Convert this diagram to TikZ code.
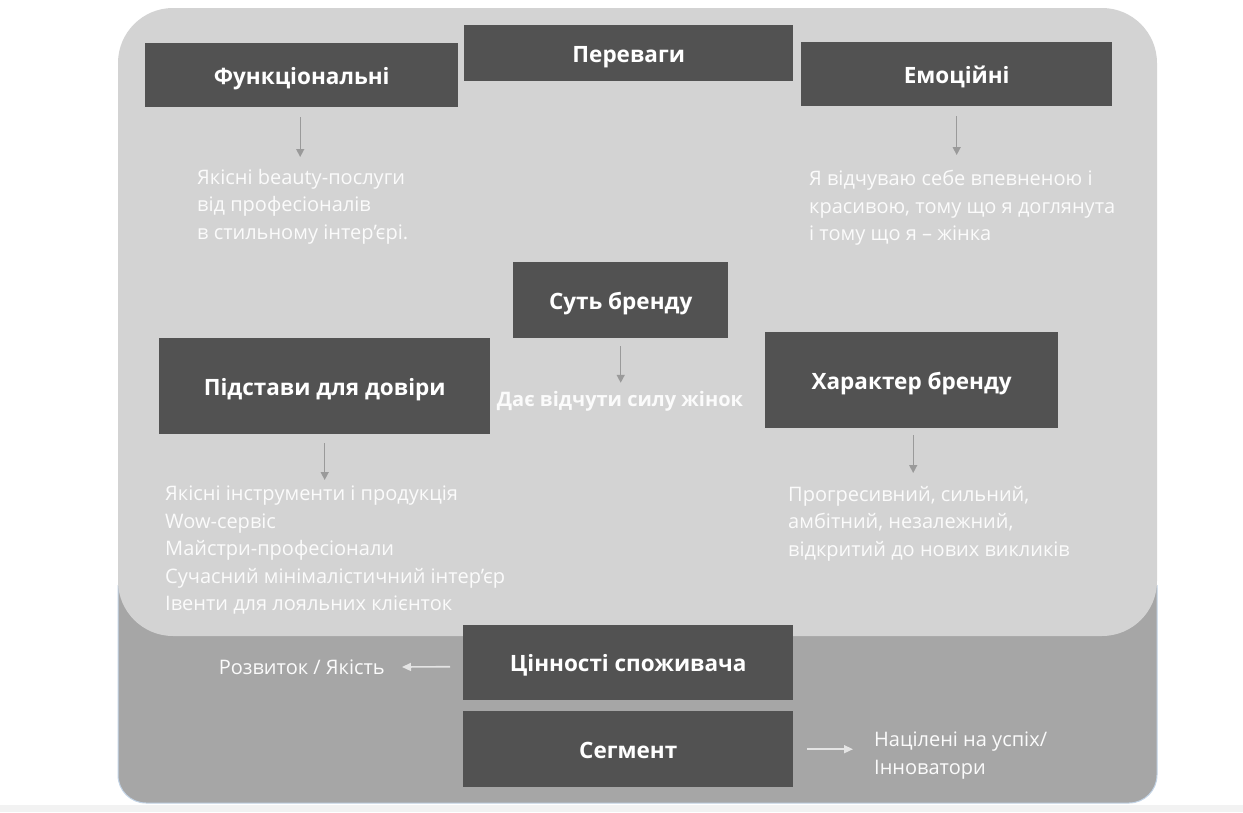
\documentclass[tikz,border=0pt]{standalone}
\usepackage{fontspec}
\setmainfont{Open Sans}
\usetikzlibrary{arrows.meta}
\definecolor{panellight}{HTML}{D3D3D3}
\definecolor{paneldark}{HTML}{A6A6A6}
\definecolor{paneledge}{HTML}{C2D3E6}
\definecolor{boxgray}{HTML}{525252}
\definecolor{arrowgray}{HTML}{9A9A9A}
\definecolor{lightarrow}{HTML}{E4E4E4}
\definecolor{softwhite}{HTML}{FBFBFB}
\definecolor{floorgray}{HTML}{F2F2F2}
\tikzset{
  darkbox/.style={fill=boxgray, text=white, inner sep=0pt, anchor=north west,
    text height=18pt, text depth=0pt,
    font=\bfseries\fontsize{22.5}{27}\selectfont},
  bodytext/.style={text=softwhite, inner sep=0pt, align=left, anchor=north west,
    font=\fontsize{20}{27.5}\selectfont},
  downarrow/.style={draw=arrowgray, line width=1.4pt,
    -{Triangle[width=8pt,length=8pt]}},
  sidearrow/.style={draw=lightarrow, line width=1.6pt,
    -{Triangle[width=8pt,length=9pt]}}
}
\begin{document}
\begin{tikzpicture}[x=1pt,y=-1pt]
\useasboundingbox (0,0) rectangle (1243,812);
\fill[white] (0,0) rectangle (1243,812);
\fill[floorgray] (0,805) rectangle (1243,812);

% panels: darker lower tray, lighter upper card
\fill[paneldark, rounded corners=28pt] (118,560) rectangle (1157,803);
\draw[paneledge, line width=1pt, rounded corners=28pt]
  (118,585) -- (118,803) -- (1157,803) -- (1157,585);
\fill[panellight, rounded corners=55pt] (118,8) rectangle (1157,636);

% header boxes
\node[darkbox, minimum width=329pt, minimum height=56pt] (adv) at (464,25) {Переваги};
\node[darkbox, minimum width=313pt, minimum height=64pt] (func) at (145,43) {Функціональні};
\node[darkbox, minimum width=311pt, minimum height=64pt] (emo) at (801,42) {Емоційні};
\node[darkbox, minimum width=215pt, minimum height=76pt] (core) at (513,262) {Суть бренду};
\node[darkbox, minimum width=331pt, minimum height=96pt] (trust) at (159,338) {Підстави для довіри};
\node[darkbox, minimum width=293pt, minimum height=96pt] (char) at (765,332) {Характер бренду};
\node[darkbox, minimum width=330pt, minimum height=75pt] (values) at (463,625) {Цінності споживача};
\node[darkbox, minimum width=330pt, minimum height=76pt] (segment) at (463,711) {Сегмент};

% descriptions
\node[bodytext] (functext) at (197,169)
  {Якісні beauty-послуги\\від професіоналів\\в стильному інтер’єрі.};
\node[bodytext] (emotext) at (809,170)
  {Я відчуваю себе впевненою і\\красивою, тому що я доглянута\\і тому що я – жінка};
\node[text=softwhite, inner sep=0pt, font=\bfseries\fontsize{20}{24}\selectfont]
  (coretext) at (620,401) {Дає відчути силу жінок};
\node[bodytext] (trusttext) at (165,486)
  {Якісні інструменти і продукція\\Wow-сервіс\\Майстри-професіонали\\Сучасний мінімалістичний інтер'єр\\Івенти для лояльних клієнток};
\node[bodytext] (chartext) at (788,486)
  {Прогресивний, сильний,\\амбітний, незалежний,\\відкритий до нових викликів};
\node[bodytext, anchor=east] (valuetext) at (385,667) {Розвиток / Якість};
\node[bodytext] (segtext) at (874,732) {Націлені на успіх/\\Інноватори};

% connectors
\draw[downarrow] ([xshift=-1.5pt,yshift=-10pt]func.south)
  -- ([xshift=-1.5pt,yshift=12pt]func.south |- functext.north);
\draw[downarrow] ([yshift=-10pt]emo.south) -- ([yshift=15pt]emo.south |- emotext.north);
\draw[downarrow] ([yshift=-8pt]core.south) -- ([yshift=8pt]core.south |- coretext.north);
\draw[downarrow] ([yshift=-9pt]trust.south) -- ([yshift=6pt]trust.south |- trusttext.north);
\draw[downarrow] ([xshift=1.5pt,yshift=-7pt]char.south) -- ([xshift=1.5pt,yshift=13pt]char.south |- chartext.north);
\draw[sidearrow] ([xshift=-13pt,yshift=-4pt]values.west) -- ([xshift=17pt]valuetext.east);
\draw[sidearrow] ([xshift=14pt]segment.east) -- ([xshift=-21pt]segment.east -| segtext.west);
\end{tikzpicture}
\end{document}
